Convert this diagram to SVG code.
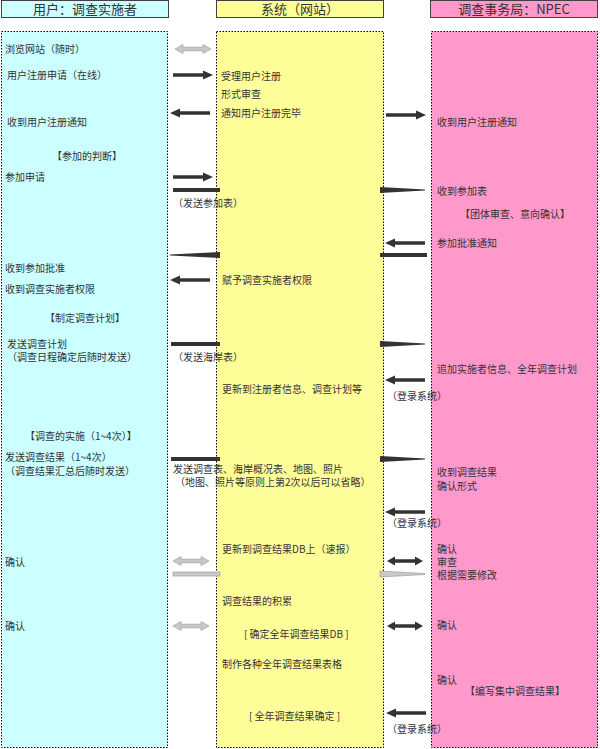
<svg xmlns="http://www.w3.org/2000/svg" width="600" height="749" viewBox="0 0 600 749">
<style>
text{font-family:"Noto Sans CJK SC","Noto Sans",sans-serif;font-size:10px;fill:#333}
.hd{font-size:13px;text-anchor:middle}
.hbox{stroke:#404040;stroke-width:1}
.body{stroke:#000;stroke-width:1;stroke-dasharray:1.5,1.5}
.blk{fill:#333}
.gry{fill:#c8c8c8;stroke:#a0a0a0;stroke-width:0.7}
</style>
<defs>
<path id="arR" d="M0,-1.8H30V-4.5L40,0L30,4.5V1.8H0Z"/>
<path id="arL" d="M40,-1.8H10V-4.5L0,0L10,4.5V1.8H40Z"/>
<path id="dbl" d="M0,0L8,-4.5V-1.8H28V-4.5L36,0L28,4.5V1.8H8V4.5Z"/>
<path id="wR" d="M0,-3L45,-0.5V0.5L0,3Z"/>
<path id="wL" d="M50,-3L0,-0.5V0.5L50,3Z"/>
</defs>

<g id="lane-user">
<rect class="hbox" x="1.5" y="0.5" width="167" height="17" fill="#ccffff"/>
<text class="hd" x="85" y="13.5">用户：调查实施者</text>
<rect class="body" x="1.5" y="31.5" width="166" height="716" fill="#ccffff"/>
</g>
<g id="lane-system">
<rect class="hbox" x="216.5" y="0.5" width="167" height="17" fill="#ffff99"/>
<text class="hd" x="300" y="13.5">系统（网站）</text>
<rect class="body" x="216.5" y="31.5" width="167" height="716" fill="#ffff99"/>
</g>
<g id="lane-npec">
<rect class="hbox" x="430.5" y="0.5" width="167" height="17" fill="#ff99cc"/>
<text class="hd" x="514" y="13.5">调查事务局：NPEC</text>
<rect class="body" x="431.5" y="31.5" width="166" height="716" fill="#ff99cc"/>
</g>

<g id="connectors">
<use href="#dbl" class="gry" transform="translate(175,49)"/>
<use href="#arR" class="blk" transform="translate(173,75)"/>
<use href="#arL" class="blk" transform="translate(170,113)"/>
<use href="#arR" class="blk" transform="translate(386,115)"/>
<use href="#arR" class="blk" transform="translate(173,177)"/>
<rect class="blk" x="173" y="188" width="47" height="4"/>
<use href="#wR" class="blk" transform="translate(380,190)"/>
<use href="#arL" class="blk" transform="translate(385,243)"/>
<rect class="blk" x="380" y="253" width="47" height="4"/>
<use href="#wL" class="blk" transform="translate(170,255)"/>
<use href="#arL" class="blk" transform="translate(170,280)"/>
<rect class="blk" x="171" y="342" width="49" height="4"/>
<use href="#wR" class="blk" transform="translate(380,344)"/>
<use href="#arL" class="blk" transform="translate(385,380)"/>
<rect class="blk" x="171" y="457" width="49" height="4"/>
<use href="#wR" class="blk" transform="translate(380,459)"/>
<use href="#arL" class="blk" transform="translate(385,512)"/>
<use href="#dbl" class="gry" transform="translate(173,561)"/>
<use href="#dbl" class="blk" transform="translate(387,561)"/>
<rect class="gry" x="173" y="572" width="47" height="4"/>
<use href="#wR" class="gry" transform="translate(380,574)"/>
<use href="#dbl" class="gry" transform="translate(173,626)"/>
<use href="#dbl" class="blk" transform="translate(387,626)"/>
<use href="#arL" class="blk" transform="translate(386,713)"/>
</g>

<g id="text-user">
<text x="5" y="52.5">浏览网站（随时）</text>
<text x="7" y="78.5">用户注册申请（在线）</text>
<text x="7" y="125.5">收到用户注册通知</text>
<text x="52" y="159.5">【参加的判断】</text>
<text x="5" y="180.5">参加申请</text>
<text x="5" y="271.5">收到参加批准</text>
<text x="5" y="292.5">收到调查实施者权限</text>
<text x="45" y="321.5">【制定调查计划】</text>
<text x="7" y="347.5">发送调查计划</text>
<text x="7" y="360.5">（调查日程确定后随时发送）</text>
<text x="25" y="439.5">【调查的实施（1~4次）】</text>
<text x="5" y="461">发送调查结果（1~4次）</text>
<text x="5" y="474.5">（调查结果汇总后随时发送）</text>
<text x="5" y="565.5">确认</text>
<text x="5" y="629.5">确认</text>
</g>

<g id="text-system">
<text x="221" y="79.5">受理用户注册</text>
<text x="221" y="97.5">形式审查</text>
<text x="221" y="116.5">通知用户注册完毕</text>
<text x="173" y="206.5">（发送参加表）</text>
<text x="222" y="283.5">赋予调查实施者权限</text>
<text x="173" y="360.5">（发送海岸表）</text>
<text x="222" y="392.5">更新到注册者信息、调查计划等</text>
<text x="173" y="473">发送调查表、海岸概况表、地图、照片</text>
<text x="175" y="486">（地图、照片等原则上第2次以后可以省略）</text>
<text x="222" y="552.5">更新到调查结果DB上（速报）</text>
<text x="222" y="604.5">调查结果的积累</text>
<text x="244" y="637.5">[ 确定全年调查结果DB ]</text>
<text x="222" y="667.5">制作各种全年调查结果表格</text>
<text x="249" y="719.5">[ 全年调查结果确定 ]</text>
</g>

<g id="text-npec">
<text x="437" y="125.5">收到用户注册通知</text>
<text x="437" y="194.5">收到参加表</text>
<text x="460" y="217.5">【团体审查、意向确认】</text>
<text x="437" y="246.5">参加批准通知</text>
<text x="437" y="372.5">追加实施者信息、全年调查计划</text>
<text x="387" y="399.5">（登录系统）</text>
<text x="437" y="476">收到调查结果</text>
<text x="437" y="490">确认形式</text>
<text x="387" y="526.5">（登录系统）</text>
<text x="437" y="552.5">确认</text>
<text x="437" y="565.5">审查</text>
<text x="437" y="578.5">根据需要修改</text>
<text x="437" y="628.5">确认</text>
<text x="437" y="683.5">确认</text>
<text x="465" y="695">【编写集中调查结果】</text>
<text x="387" y="732.5">（登录系统）</text>
</g>
</svg>
